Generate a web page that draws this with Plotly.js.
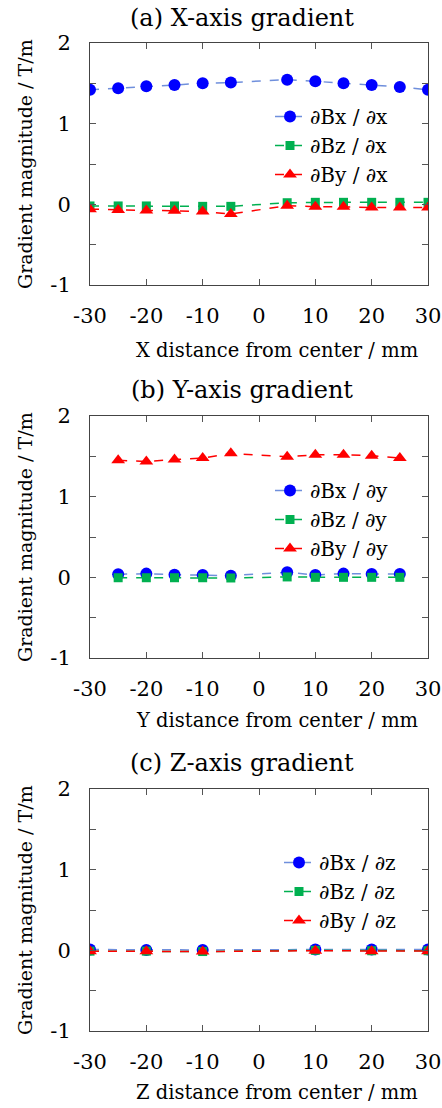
<!DOCTYPE html>
<html>
<head>
<meta charset="utf-8">
<script src="https://cdn.plot.ly/plotly-3.0.1.min.js"></script>
<style>html,body{margin:0;padding:0;background:#fff;}#chart{width:442px;height:1108px;}</style>
</head>
<body>
<div id="chart"></div>
<script>
// Panel (a): X-axis gradient
const xPosA = [-30, -25, -20, -15, -10, -5, 5, 10, 15, 20, 25, 30];
const dBxdx = [1.42, 1.44, 1.465, 1.48, 1.50, 1.51, 1.545, 1.525, 1.50, 1.48, 1.455, 1.42];
const dBzdx = [-0.02, -0.02, -0.02, -0.02, -0.025, -0.025, 0.02, 0.025, 0.025, 0.025, 0.025, 0.025];
const dBydx = [-0.06, -0.07, -0.075, -0.08, -0.09, -0.12, -0.017, -0.03, -0.03, -0.04, -0.04, -0.04];
// Panel (b): Y-axis gradient
const yPosB = [-25, -20, -15, -10, -5, 5, 10, 15, 20, 25];
const dBxdy = [0.037, 0.046, 0.033, 0.03, 0.021, 0.062, 0.03, 0.046, 0.04, 0.04];
const dBzdy = [-0.005, -0.005, -0.005, -0.005, -0.008, 0.005, 0.0, 0.0, 0.0, 0.0];
const dBydy = [1.45, 1.437, 1.46, 1.478, 1.537, 1.494, 1.52, 1.52, 1.507, 1.478];
// Panel (c): Z-axis gradient
const zPosC = [-30, -20, -10, 10, 20, 30];
const dBxdz = [0.01, 0.005, 0.005, 0.01, 0.01, 0.01];
const dBzdz = [-0.01, -0.01, -0.015, 0.0, -0.005, -0.005];
const dBydz = [-0.01, -0.01, -0.015, -0.005, -0.01, -0.01];

const panelTitles = ["(a) X-axis gradient", "(b) Y-axis gradient", "(c) Z-axis gradient"];
const xTitles = ["X distance from center / mm", "Y distance from center / mm", "Z distance from center / mm"];
const yTitle = "Gradient magnitude / T/m";
const xTickVals = [-30, -20, -10, 0, 10, 20, 30];
const xTickText = ["-30", "-20", "-10", "0", "10", "20", "30"];
const yTickVals = [-1, -0.5, 0, 0.5, 1, 1.5, 2];
const yTickText = ["-1", "", "0", "", "1", "", "2"];

const FONT = "DejaVu Serif, serif";
const W = 442, H = 1108;
const py = p => 1 - p / H;
const px = p => p / W;

const styles = [
  {line: '#6f8fdc', marker: '#0000ff', symbol: 'circle', size: 12},
  {line: '#00b050', marker: '#00b050', symbol: 'square', size: 9},
  {line: '#ff0000', marker: '#ff0000', symbol: 'triangle-up', size: 12}
];

function tr(x, y, name, s, axn, leg) {
  return {
    x: x, y: y, name: name, type: 'scatter', mode: 'lines+markers',
    xaxis: 'x' + (axn === 1 ? '' : axn), yaxis: 'y' + (axn === 1 ? '' : axn),
    legend: leg,
    line: {color: s.line, width: 1.5, dash: 'dash'},
    marker: {color: s.marker, symbol: s.symbol, size: s.size}
  };
}

const data = [
  tr(xPosA, dBxdx, '∂Bx / ∂x', styles[0], 1, 'legend'),
  tr(xPosA, dBzdx, '∂Bz / ∂x', styles[1], 1, 'legend'),
  tr(xPosA, dBydx, '∂By / ∂x', styles[2], 1, 'legend'),
  tr(yPosB, dBxdy, '∂Bx / ∂y', styles[0], 2, 'legend2'),
  tr(yPosB, dBzdy, '∂Bz / ∂y', styles[1], 2, 'legend2'),
  tr(yPosB, dBydy, '∂By / ∂y', styles[2], 2, 'legend2'),
  tr(zPosC, dBxdz, '∂Bx / ∂z', styles[0], 3, 'legend3'),
  tr(zPosC, dBzdz, '∂Bz / ∂z', styles[1], 3, 'legend3'),
  tr(zPosC, dBydz, '∂By / ∂z', styles[2], 3, 'legend3')
];

// pixel bounds of plot areas
const plotTop = [43, 416, 789];
const plotBot = [285, 658, 1031];
const xL = 90, xR = 428;

function xax(anchor) {
  return {
    domain: [px(xL), px(xR)], anchor: anchor, range: [-30, 30],
    tickvals: xTickVals, ticktext: xTickText, ticks: 'inside', ticklen: 6,
    tickcolor: '#555', showline: true, linecolor: '#444', linewidth: 1, mirror: 'ticks',
    ticklabelstandoff: 12,
    showgrid: false, zeroline: false, tickfont: {family: FONT, size: 21, color: '#000'}
  };
}
function yax(i, anchor) {
  return {
    domain: [py(plotBot[i]), py(plotTop[i])], anchor: anchor, range: [-1, 2],
    tickvals: yTickVals, ticktext: yTickText, ticks: 'inside', ticklen: 6,
    tickcolor: '#555', showline: true, linecolor: '#444', linewidth: 1, mirror: 'ticks',
    ticklabelstandoff: 14,
    showgrid: false, zeroline: false, tickfont: {family: FONT, size: 21, color: '#000'}
  };
}

const annotations = [];
const titleY = [18, 390, 763];
const xTitleY = [350, 720, 1092];
for (let i = 0; i < 3; i++) {
  annotations.push({text: panelTitles[i], xref: 'paper', yref: 'paper', x: px(242), y: py(titleY[i]),
    xanchor: 'center', yanchor: 'middle', showarrow: false, font: {family: FONT, size: 24, color: '#000'}});
  annotations.push({text: xTitles[i], xref: 'paper', yref: 'paper', x: px(277), y: py(xTitleY[i]),
    xanchor: 'center', yanchor: 'middle', showarrow: false, font: {family: FONT, size: 19.5, color: '#000'}});
  annotations.push({text: yTitle, xref: 'paper', yref: 'paper', x: px(25), y: py((plotTop[i] + plotBot[i]) / 2),
    xanchor: 'center', yanchor: 'middle', textangle: -90, showarrow: false, font: {family: FONT, size: 19, color: '#000'}});
}

function leg(x, y) {
  return {x: px(x), y: py(y), xanchor: 'left', yanchor: 'top', bgcolor: 'rgba(0,0,0,0)',
    font: {family: FONT, size: 20, color: '#000'}, tracegroupgap: 0, itemwidth: 30};
}

const layout = {
  width: W, height: H, margin: {l: 0, r: 0, t: 0, b: 0},
  paper_bgcolor: '#fff', plot_bgcolor: '#fff', showlegend: true,
  xaxis: xax('y'), yaxis: yax(0, 'x'),
  xaxis2: xax('y2'), yaxis2: yax(1, 'x2'),
  xaxis3: xax('y3'), yaxis3: yax(2, 'x3'),
  legend: leg(270, 97), legend2: leg(270, 471), legend3: leg(279, 843),
  annotations: annotations
};

Plotly.newPlot('chart', data, layout, {displayModeBar: false, staticPlot: true});
</script>
</body>
</html>
